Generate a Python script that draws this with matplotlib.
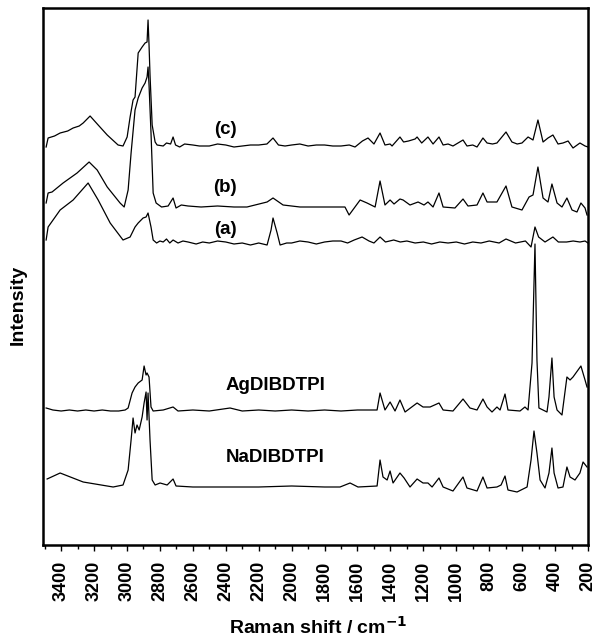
import matplotlib
matplotlib.use("Agg")
import matplotlib.pyplot as plt
from matplotlib.ticker import MultipleLocator

plt.rcParams["font.family"] = ["Liberation Sans", "DejaVu Sans"]
plt.rcParams["font.weight"] = "bold"

# spectra: Raman shift (cm-1) and intensity (arbitrary, stacked)
c_shift = [3491, 3479, 3440, 3406, 3360, 3327, 3290, 3266, 3224, 3175, 3120, 3054,
           3024, 2999, 2981, 2963, 2951, 2932, 2908, 2890, 2878, 2872, 2866, 2860,
           2847, 2829, 2817, 2780, 2760, 2735, 2720, 2705, 2680, 2650, 2600, 2560,
           2500, 2450, 2400, 2350, 2300, 2250, 2200, 2150, 2113, 2080, 2040, 2000,
           1950, 1900, 1850, 1800, 1750, 1700, 1650, 1615, 1570, 1536, 1500, 1463,
           1433, 1402, 1390, 1342, 1320, 1290, 1250, 1238, 1210, 1172, 1141, 1105,
           1080, 1050, 1020, 959, 935, 900, 874, 838, 813, 780, 753, 698, 662, 630,
           601, 564, 534, 504, 473, 443, 413, 382, 352, 321, 291, 249, 218, 200]
c_int = [398, 407, 409, 412, 414, 417, 419, 422, 429, 420, 410, 400,
         399, 408, 428, 445, 448, 492, 498, 502, 503, 525, 500, 470,
         420, 403, 400, 399, 402, 401, 408, 400, 398, 401, 400, 399,
         399, 401, 400, 398, 399, 400, 400, 401, 407, 400, 399, 400,
         401, 399, 400, 400, 399, 399, 400, 398, 404, 407, 401, 412,
         400, 401, 399, 408, 403, 404, 406, 408, 402, 408, 401, 408,
         400, 401, 399, 405, 399, 400, 398, 407, 402, 401, 402, 413, 403, 401,
         402, 408, 405, 425, 403, 407, 410, 401, 402, 404, 397, 402, 399, 398]

b_shift = [3491, 3479, 3455, 3388, 3303, 3230, 3181, 3120, 3042, 3017, 2993, 2975,
           2951, 2932, 2908, 2890, 2878, 2872, 2866, 2854, 2841, 2823, 2790, 2750,
           2720, 2702, 2670, 2629, 2550, 2450, 2350, 2271, 2149, 2113, 2052, 1949,
           1800, 1676, 1651, 1584, 1542, 1493, 1463, 1433, 1402, 1378, 1342, 1323,
           1281, 1232, 1196, 1172, 1141, 1105, 1080, 1008, 959, 929, 874, 838, 813,
           753, 698, 662, 601, 558, 534, 504, 473, 443, 419, 388, 358, 328, 297,
           267, 243, 218, 206]
b_int = [342, 352, 353, 362, 372, 383, 375, 358, 342, 338, 355, 392,
         435, 447, 457, 462, 468, 478, 460, 412, 352, 342, 338, 339,
         347, 337, 340, 339, 338, 339, 338, 338, 343, 347, 340, 338,
         338, 338, 330, 345, 342, 338, 364, 340, 345, 341, 346, 345,
         340, 343, 340, 343, 338, 352, 338, 337, 346, 339, 340, 352, 343,
         343, 359, 338, 335, 348, 350, 378, 347, 343, 361, 342, 338, 347, 335,
         333, 342, 337, 330]

a_shift = [3491, 3479, 3406, 3327, 3236, 3175, 3102, 3024, 2981, 2951, 2932, 2902,
           2884, 2872, 2854, 2841, 2820, 2800, 2780, 2760, 2740, 2720, 2690, 2660,
           2629, 2580, 2540, 2500, 2450, 2400, 2350, 2300, 2250, 2200, 2149, 2125,
           2113, 2088, 2070, 2030, 2000, 1950, 1900, 1850, 1800, 1750, 1700, 1660,
           1620, 1572, 1530, 1500, 1463, 1430, 1380, 1340, 1300, 1250, 1200, 1150,
           1100, 1050, 1000, 950, 900, 850, 800, 740, 698, 640, 580, 546, 522, 500,
           461, 413, 380, 330, 290, 249, 218, 200]
a_int = [305, 318, 335, 345, 362, 345, 322, 305, 308, 318, 322, 327,
         328, 332, 318, 305, 302, 304, 303, 306, 302, 305, 302, 304,
         303, 301, 303, 302, 304, 303, 301, 302, 300, 302, 300, 315,
         327, 312, 300, 302, 302, 304, 303, 301, 303, 304, 304, 302,
         305, 308, 304, 302, 308, 303, 305, 303, 304, 302, 303, 301,
         303, 302, 303, 301, 303, 302, 304, 302, 306, 302, 304, 298, 318, 308,
         303, 308, 303, 303, 304, 303, 304, 302]

ag_shift = [3491, 3450, 3400, 3350, 3300, 3250, 3200, 3150, 3100, 3050, 3011, 2993,
            2969, 2951, 2932, 2908, 2896, 2884, 2878, 2866, 2854, 2841, 2780, 2720,
            2690, 2600, 2500, 2374, 2300, 2200, 2100, 2000, 1900, 1800, 1700, 1600,
            1481, 1463, 1433, 1402, 1372, 1342, 1311, 1238, 1202, 1159, 1105, 1080,
            1020, 959, 917, 874, 838, 813, 783, 753, 734, 704, 686, 613, 583, 564,
            540, 522, 510, 498, 449, 437, 419, 406, 388, 358, 328, 309, 291, 243,
            218, 206]
ag_int = [137, 135, 134, 135, 134, 135, 134, 135, 134, 134, 135, 137,
          152, 158, 162, 165, 179, 170, 172, 168, 138, 134, 135, 138,
          134, 135, 134, 137, 134, 135, 134, 135, 134, 135, 134, 135,
          135, 152, 135, 143, 134, 145, 133, 142, 138, 138, 142, 135,
          134, 146, 137, 135, 146, 138, 133, 138, 135, 151, 135, 134, 138, 135,
          182, 301, 185, 137, 133, 148, 187, 148, 135, 130, 168, 165, 168, 179,
          165, 158]

na_shift = [3485, 3406, 3266, 3084, 3024, 2993, 2975, 2963, 2951, 2939, 2926, 2908,
            2896, 2884, 2878, 2872, 2860, 2847, 2829, 2799, 2756, 2720, 2702, 2600,
            2400, 2200, 2000, 1800, 1706, 1645, 1597, 1481, 1463, 1445, 1420, 1402,
            1384, 1342, 1317, 1281, 1238, 1202, 1172, 1147, 1105, 1080, 1020, 959,
            935, 874, 838, 813, 753, 728, 704, 686, 631, 570, 546, 528, 510, 491,
            461, 437, 419, 406, 382, 352, 328, 309, 279, 249, 230, 206]
na_int = [66, 72, 63, 58, 60, 75, 105, 127, 112, 120, 115, 128,
          142, 153, 125, 152, 105, 65, 60, 62, 60, 66, 59, 58,
          58, 58, 59, 58, 58, 62, 58, 59, 85, 68, 65, 74,
          62, 72, 67, 58, 66, 62, 62, 58, 67, 58, 54, 68,
          57, 54, 68, 57, 58, 60, 69, 55, 53, 58, 85, 114, 92, 65,
          57, 72, 97, 72, 57, 58, 78, 68, 65, 72, 83, 78]

curve_labels = ["(c)", "(b)", "(a)", "AgDIBDTPI", "NaDIBDTPI"]
label_x = [2404, 2404, 2404, 2101, 2101]
label_y = [416, 358, 316, 160, 87]

fig = plt.figure(figsize=(5.98, 6.39), dpi=100)
ax = fig.add_axes([43 / 598, 94 / 639, 545 / 598, 537 / 639])

for xs, ys in [(c_shift, c_int), (b_shift, b_int), (a_shift, a_int),
               (ag_shift, ag_int), (na_shift, na_int)]:
    ax.plot(xs, ys, color="black", linewidth=0.9)

for lab, lx, ly in zip(curve_labels, label_x, label_y):
    ax.text(lx, ly, lab, ha="center", va="center", fontsize=13.5, fontweight="bold")

ax.set_xlim(3510, 200)
ax.set_ylim(0, 537)
ax.set_yticks([])
ax.xaxis.set_major_locator(MultipleLocator(200))
ax.xaxis.set_minor_locator(MultipleLocator(100))
ax.tick_params(axis="x", which="major", direction="out", length=4, width=1,
               pad=7, labelsize=13, labelrotation=90)
ax.tick_params(axis="x", which="minor", direction="out", length=3, width=1)
for lab in ax.get_xticklabels():
    lab.set_fontweight("bold")
for sp in ax.spines.values():
    sp.set_linewidth(1.8)

fig.text(18 / 598, 1 - 305 / 639, "Intensity", rotation=90, ha="center",
         va="center", fontsize=14, fontweight="bold")
fig.text(318 / 598, 1 - 627 / 639, "Raman shift / cm$^{\\mathbf{-1}}$", ha="center",
         va="center", fontsize=14, fontweight="bold")

fig.savefig("out.png", dpi=100)
